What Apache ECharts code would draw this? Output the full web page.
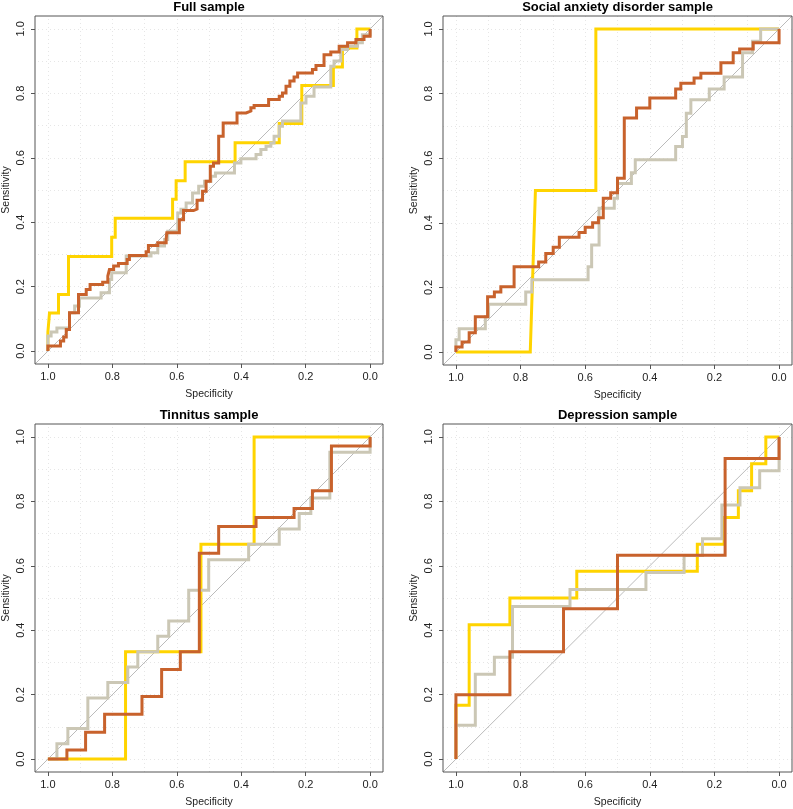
<!DOCTYPE html>
<html>
<head>
<meta charset="utf-8">
<script src="https://cdn.jsdelivr.net/npm/echarts@6/dist/echarts.min.js"></script>
<style>
html,body{margin:0;padding:0;background:#fff;}
#chart{width:793px;height:809px;}
</style>
</head>
<body>
<div id="chart"></div>
<script>
// ---------- data ----------
const panelTitles = ['Full sample', 'Social anxiety disorder sample', 'Tinnitus sample', 'Depression sample'];
const tickValues = [0, 0.2, 0.4, 0.6, 0.8, 1.0];
const gridValues = [0, 0.1, 0.2, 0.3, 0.4, 0.5, 0.6, 0.7, 0.8, 0.9, 1.0];

// Full sample
const fullYellowSpec = [1.0, 0.995, 0.967, 0.936, 0.802, 0.791, 0.613, 0.602, 0.574, 0.419, 0.282, 0.212, 0.114, 0.086, 0.041, 0.0];
const fullYellowSens = [0.059, 0.118, 0.176, 0.294, 0.353, 0.412, 0.471, 0.529, 0.588, 0.647, 0.706, 0.824, 0.882, 0.941, 1.0, 1.0];
const fullBrownSpec = [1.0, 0.961, 0.951, 0.943, 0.933, 0.905, 0.881, 0.869, 0.830, 0.814, 0.809, 0.796, 0.781, 0.754, 0.747, 0.695, 0.688, 0.659, 0.633, 0.631, 0.592, 0.579, 0.548, 0.537, 0.520, 0.509, 0.496, 0.486, 0.470, 0.456, 0.413, 0.385, 0.370, 0.360, 0.315, 0.282, 0.272, 0.261, 0.249, 0.236, 0.225, 0.179, 0.168, 0.143, 0.122, 0.096, 0.070, 0.044, 0.019, 0.0];
const fullBrownSens = [0.016, 0.031, 0.044, 0.067, 0.119, 0.176, 0.191, 0.207, 0.214, 0.233, 0.253, 0.264, 0.272, 0.284, 0.297, 0.308, 0.328, 0.336, 0.348, 0.367, 0.408, 0.436, 0.441, 0.468, 0.496, 0.527, 0.574, 0.584, 0.667, 0.708, 0.739, 0.745, 0.755, 0.762, 0.781, 0.791, 0.801, 0.822, 0.838, 0.851, 0.863, 0.874, 0.886, 0.920, 0.928, 0.946, 0.957, 0.967, 0.977, 1.0];
const fullGraySpec = [1.0, 0.990, 0.972, 0.933, 0.917, 0.902, 0.835, 0.809, 0.802, 0.757, 0.680, 0.659, 0.638, 0.628, 0.597, 0.587, 0.571, 0.551, 0.532, 0.514, 0.494, 0.480, 0.421, 0.401, 0.354, 0.339, 0.323, 0.308, 0.298, 0.282, 0.272, 0.215, 0.199, 0.174, 0.122, 0.112, 0.091, 0.070, 0.039, 0.024, 0.0];
const fullGraySens = [0.047, 0.059, 0.072, 0.119, 0.140, 0.165, 0.181, 0.222, 0.243, 0.295, 0.305, 0.326, 0.346, 0.372, 0.429, 0.440, 0.460, 0.491, 0.512, 0.527, 0.543, 0.553, 0.584, 0.597, 0.610, 0.626, 0.636, 0.646, 0.667, 0.698, 0.714, 0.770, 0.791, 0.820, 0.884, 0.900, 0.936, 0.946, 0.957, 0.982, 1.0];

// Social anxiety disorder sample
const sadYellowSpec = [0.770, 0.754, 0.567, 0.0];
const sadYellowSens = [0.0, 0.5, 1.0, 1.0];
const sadYellowDirect = [1]; // vertex joined to previous by a straight (tied) segment
const sadBrownSpec = [1.0, 0.981, 0.959, 0.940, 0.902, 0.881, 0.861, 0.820, 0.744, 0.722, 0.699, 0.680, 0.619, 0.600, 0.577, 0.559, 0.544, 0.521, 0.500, 0.479, 0.441, 0.400, 0.320, 0.304, 0.263, 0.242, 0.180, 0.142, 0.122, 0.080, 0.0];
const sadBrownSens = [0.016, 0.031, 0.060, 0.109, 0.171, 0.186, 0.202, 0.264, 0.279, 0.305, 0.324, 0.355, 0.370, 0.386, 0.400, 0.416, 0.476, 0.493, 0.538, 0.724, 0.755, 0.786, 0.814, 0.832, 0.848, 0.863, 0.895, 0.926, 0.938, 0.957, 1.0];
const sadGraySpec = [1.0, 0.990, 0.909, 0.899, 0.784, 0.765, 0.591, 0.580, 0.557, 0.510, 0.500, 0.457, 0.445, 0.320, 0.299, 0.287, 0.273, 0.216, 0.170, 0.113, 0.082, 0.057, 0.0];
const sadGraySens = [0.038, 0.072, 0.109, 0.148, 0.186, 0.224, 0.264, 0.331, 0.445, 0.476, 0.522, 0.555, 0.595, 0.636, 0.667, 0.739, 0.781, 0.814, 0.851, 0.926, 0.962, 1.0, 1.0];

// Tinnitus sample
const tinYellowSpec = [0.759, 0.525, 0.360, 0.0];
const tinYellowSens = [0.333, 0.667, 1.0, 1.0];
const tinBrownSpec = [0.941, 0.883, 0.824, 0.708, 0.647, 0.589, 0.530, 0.470, 0.354, 0.236, 0.179, 0.120, 0.0];
const tinBrownSens = [0.028, 0.083, 0.139, 0.194, 0.278, 0.333, 0.639, 0.722, 0.750, 0.778, 0.833, 0.972, 1.0];
const tinGraySpec = [0.972, 0.938, 0.876, 0.814, 0.752, 0.721, 0.659, 0.625, 0.563, 0.501, 0.377, 0.282, 0.220, 0.184, 0.125, 0.0];
const tinGraySens = [0.048, 0.095, 0.190, 0.238, 0.286, 0.333, 0.381, 0.429, 0.524, 0.619, 0.667, 0.714, 0.762, 0.810, 0.952, 1.0];

// Depression sample
const depYellowSpec = [1.0, 0.959, 0.833, 0.626, 0.253, 0.170, 0.126, 0.085, 0.041, 0.0];
const depYellowSens = [0.167, 0.417, 0.5, 0.583, 0.667, 0.75, 0.833, 0.917, 1.0, 1.0];
const depBrownSpec = [1.0, 0.833, 0.667, 0.5, 0.167, 0.0];
const depBrownSens = [0.2, 0.333, 0.467, 0.633, 0.933, 1.0];
const depGraySpec = [1.0, 0.940, 0.881, 0.825, 0.647, 0.412, 0.294, 0.237, 0.177, 0.121, 0.060, 0.0];
const depGraySens = [0.105, 0.263, 0.316, 0.474, 0.526, 0.579, 0.632, 0.684, 0.789, 0.842, 0.895, 1.0];

// ---------- build ----------
function rocPath(spec, sens, direct) {
  direct = direct || [];
  const pts = [[1, 0]];
  let ps = 1, pe = 0;
  for (let k = 0; k < spec.length; k++) {
    const s = spec[k], e = sens[k];
    if (s !== ps && e !== pe && direct.indexOf(k) < 0) pts.push([s, pe]);
    pts.push([s, e]);
    ps = s; pe = e;
  }
  return pts;
}

const panelCurves = [
  [[fullYellowSpec, fullYellowSens], [fullGraySpec, fullGraySens], [fullBrownSpec, fullBrownSens]],
  [[sadYellowSpec, sadYellowSens, sadYellowDirect], [sadGraySpec, sadGraySens], [sadBrownSpec, sadBrownSens]],
  [[tinYellowSpec, tinYellowSens], [tinGraySpec, tinGraySens], [tinBrownSpec, tinBrownSens]],
  [[depYellowSpec, depYellowSens], [depGraySpec, depGraySens], [depBrownSpec, depBrownSens]]
];
const curveColors = ['#FFD400', '#CBC7B5', '#C8622C'];

const grids = [
  {left: 35, top: 16, width: 348, height: 348},
  {left: 443, top: 16, width: 349, height: 349},
  {left: 35, top: 424, width: 348, height: 349},
  {left: 443, top: 424, width: 349, height: 349}
];
const FONT = 'Liberation Sans, Arial, Helvetica, sans-serif';

const option = {
  animation: false,
  backgroundColor: '#fff',
  grid: grids.map(g => Object.assign({show: true, borderColor: '#555', borderWidth: 1, backgroundColor: 'transparent', z: 10}, g)),
  xAxis: grids.map((g, i) => ({
    gridIndex: i, type: 'value', min: -0.04, max: 1.04, inverse: true,
    axisLine: {show: false, onZero: false},
    axisTick: {show: true, customValues: tickValues, length: 4, lineStyle: {color: '#555'}},
    axisLabel: {customValues: tickValues, formatter: v => v.toFixed(1), fontSize: 11, color: '#222', margin: 7, fontFamily: FONT},
    splitLine: {show: false},
    name: 'Specificity', nameLocation: 'middle', nameGap: 25,
    nameTextStyle: {fontSize: 10.5, color: '#222', fontFamily: FONT}
  })),
  yAxis: grids.map((g, i) => ({
    gridIndex: i, type: 'value', min: -0.04, max: 1.04,
    axisLine: {show: false, onZero: false},
    axisTick: {show: true, customValues: tickValues, length: 4, lineStyle: {color: '#555'}},
    axisLabel: {customValues: tickValues, formatter: v => v.toFixed(1), fontSize: 11, color: '#222', margin: 9, rotate: 90, fontFamily: FONT},
    splitLine: {show: false},
    name: 'Sensitivity', nameLocation: 'middle', nameGap: 23, nameRotate: 90,
    nameTextStyle: {fontSize: 10.5, color: '#222', fontFamily: FONT}
  })),
  graphic: grids.map((g, i) => ({
    type: 'text', x: g.left + g.width / 2, y: g.top - 9,
    style: {text: panelTitles[i], textAlign: 'center', textVerticalAlign: 'middle',
            font: 'bold 13px ' + FONT, fill: '#000'}
  })),
  series: []
};

grids.forEach((g, i) => {
  const gridLines = [];
  gridValues.forEach(v => { gridLines.push({xAxis: v}); gridLines.push({yAxis: v}); });
  option.series.push({
    type: 'line', xAxisIndex: i, yAxisIndex: i,
    data: [[1.04, -0.04], [-0.04, 1.04]],
    showSymbol: false, silent: true, z: 1,
    lineStyle: {color: '#BBBBBB', width: 1},
    markLine: {
      silent: true, z: 0, symbol: ['none', 'none'], label: {show: false},
      lineStyle: {type: [1, 3], color: '#E6E6E6', width: 1},
      data: gridLines
    }
  });
  panelCurves[i].forEach((c, j) => {
    option.series.push({
      type: 'line', xAxisIndex: i, yAxisIndex: i,
      data: rocPath(c[0], c[1], c[2]),
      showSymbol: false, silent: true, z: 2 + j, clip: true,
      lineStyle: {color: curveColors[j], width: 3, join: 'miter'}
    });
  });
});

const chart = echarts.init(document.getElementById('chart'), null, {renderer: 'canvas'});
chart.setOption(option);
</script>
</body>
</html>
